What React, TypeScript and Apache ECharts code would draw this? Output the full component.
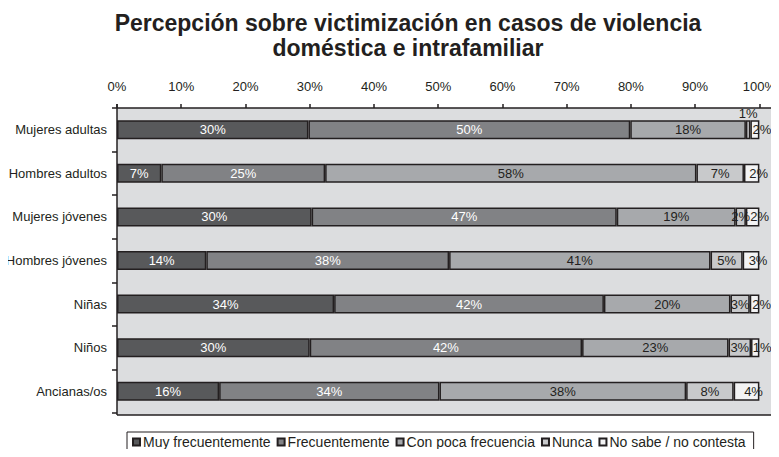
import React, { useEffect, useRef } from "react";
import * as echarts from "echarts";

const categories = [
  "Mujeres adultas",
  "Hombres adultos",
  "Mujeres jóvenes",
  "Hombres jóvenes",
  "Niñas",
  "Niños",
  "Ancianas/os",
];
const seriesNames = [
  "Muy frecuentemente",
  "Frecuentemente",
  "Con poca frecuencia",
  "Nunca",
  "No sabe / no contesta",
];
// bar lengths (percent)
const muyFrec = [29.8, 6.9, 30.3, 13.9, 33.8, 30.0, 15.9];
const frec = [50.1, 25.5, 47.5, 37.8, 42.0, 42.4, 34.3];
const pocaFrec = [18.0, 57.8, 18.5, 40.7, 19.7, 22.8, 38.4];
const nunca = [0.7, 7.4, 1.6, 5.0, 3.0, 3.5, 7.4];
const noSabe = [1.4, 2.4, 2.1, 2.6, 1.5, 1.3, 4.0];
// printed labels (percent)
const muyFrecLbl = [30, 7, 30, 14, 34, 30, 16];
const frecLbl = [50, 25, 47, 38, 42, 42, 34];
const pocaFrecLbl = [18, 58, 19, 41, 20, 23, 38];
const nuncaLbl = [1, 7, 2, 5, 3, 3, 8];
const noSabeLbl = [2, 2, 2, 3, 2, 1, 4];
const xTicks = [0, 10, 20, 30, 40, 50, 60, 70, 80, 90, 100];

const colors = ["#58595b", "#818285", "#a7a9ac", "#c8c9cb", "#f3f3f4"];
const labelColors = ["#ffffff", "#ffffff", "#231f20", "#231f20", "#231f20"];

export default function App() {
  const ref = useRef<HTMLDivElement>(null);
  useEffect(() => {
    if (!ref.current) return;
    const chart = echarts.init(ref.current, null, { renderer: "svg" });
    const values = [muyFrec, frec, pocaFrec, nunca, noSabe];
    const labels = [muyFrecLbl, frecLbl, pocaFrecLbl, nuncaLbl, noSabeLbl];
    const font = '"Liberation Sans", Arial, sans-serif';
    const series = values.map((vals, si) => ({
      name: seriesNames[si],
      type: "bar",
      stack: "total",
      barWidth: 19,
      itemStyle: { color: colors[si], borderColor: "#231f20", borderWidth: 1.5 },
      label: {
        show: true,
        position: "inside",
        color: labelColors[si],
        fontFamily: font,
        fontSize: 13,
        formatter: (p: any) => labels[si][p.dataIndex] + "%",
        offset: si === 4 ? [7, 0] : [0, 0],
      },
      data: vals.map((v, di) =>
        si === 3 && di === 0
          ? { value: v, label: { position: "top", distance: 0, offset: [0, 0] } }
          : v
      ),
    }));
    chart.setOption({
      animation: false,
      backgroundColor: "#ffffff",
      graphic: [
        {
          type: "rect",
          z: -10,
          silent: true,
          shape: { x: 117, y: 108, width: 662, height: 307 },
          style: { fill: "#dcdddf" },
        },
        {
          type: "line",
          z: 10,
          shape: { x1: 117, y1: 108, x2: 779, y2: 108 },
          style: { stroke: "#231f20", lineWidth: 1.5 },
        },
        {
          type: "line",
          z: 10,
          shape: { x1: 117, y1: 415, x2: 779, y2: 415 },
          style: { stroke: "#231f20", lineWidth: 1.5 },
        },
        {
          type: "line",
          z: 10,
          shape: { x1: 117, y1: 104, x2: 117, y2: 415 },
          style: { stroke: "#231f20", lineWidth: 1.5 },
        },
        {
          type: "text",
          x: 408,
          y: 10,
          style: {
            text: "Percepción sobre victimización en casos de violencia\ndoméstica e intrafamiliar",
            font: 'bold 23px "Liberation Sans", Arial, sans-serif',
            textAlign: "center",
            lineHeight: 25,
            fill: "#231f20",
          },
        },
      ],
      legend: {
        left: 127,
        top: 432,
        data: seriesNames,
        icon: "rect",
        itemWidth: 7,
        itemHeight: 7,
        itemGap: 6,
        borderColor: "#231f20",
        borderWidth: 1,
        padding: [3, 8, 12, 5],
        textStyle: { fontFamily: font, fontSize: 14, color: "#231f20", padding: [0, 0, 0, -2] },
      },
      grid: { left: 117, right: 16.3, top: 108, bottom: 44, containLabel: false },
      xAxis: {
        type: "value",
        position: "top",
        min: xTicks[0],
        max: xTicks[xTicks.length - 1],
        interval: 10,
        axisLine: { show: false },
        axisTick: { show: true, length: 4, lineStyle: { color: "#231f20", width: 1.5 } },
        splitLine: { show: false },
        axisLabel: {
          margin: 15,
          fontFamily: font,
          fontSize: 13,
          color: "#231f20",
          formatter: "{value}%",
        },
      },
      yAxis: {
        type: "category",
        inverse: true,
        data: categories,
        axisLine: { show: false },
        axisTick: { show: true, length: 5, lineStyle: { color: "#231f20", width: 1.5 } },
        axisLabel: { margin: 10, fontFamily: font, fontSize: 13, color: "#231f20" },
      },
      series,
    });
    return () => chart.dispose();
  }, []);
  return <div ref={ref} style={{ width: 779, height: 457, margin: -8 }} />;
}
